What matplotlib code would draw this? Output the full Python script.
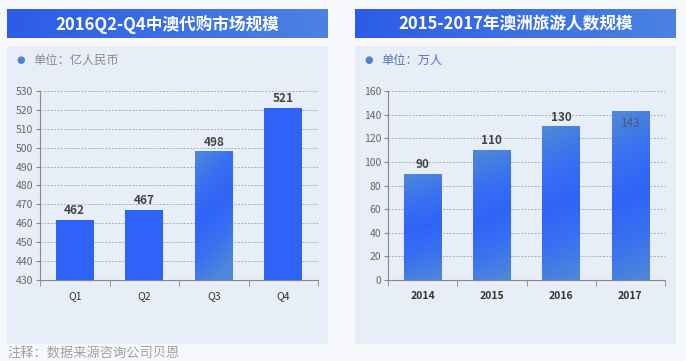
import numpy as np
import matplotlib
matplotlib.use('Agg')
import matplotlib.pyplot as plt
from matplotlib.patches import Rectangle
from matplotlib.colors import LinearSegmentedColormap

plt.rcParams['font.family'] = ['Noto Sans CJK SC', 'DejaVu Sans']

# data
quarters = ['Q1', 'Q2', 'Q3', 'Q4']
market_size = [462, 467, 498, 521]
years = ['2014', '2015', '2016', '2017']
tourists = [90, 110, 130, 143]

title_left = '2016Q2-Q4中澳代购市场规模'
title_right = '2015-2017年澳洲旅游人数规模'
unit_left = '单位：亿人民币'
unit_right = '单位：万人'
note = '注释：数据来源咨询公司贝恩'

W, H = 686, 361
fig = plt.figure(figsize=(W / 100, H / 100), dpi=100)
fig.patch.set_facecolor('#f6f8fc')


def fx(px):
    return px / W


def fy(py):
    # pixel y from top -> figure fraction from bottom
    return 1 - py / H


bar_cmap = LinearSegmentedColormap.from_list(
    'barblue', ['#5089d6', '#3a72f0', '#2f63f8', '#3a72f0', '#5089d6'])
solid_blue = '#2f62f6'


def panel(x0, x1, title, unit, unit_color):
    # panel background
    fig.patches.append(Rectangle((fx(x0), fy(344)), fx(x1 - x0), fy(46) - fy(344),
                                 transform=fig.transFigure, facecolor='#e8eef7',
                                 edgecolor='none', zorder=-10))
    # title bar with gradient
    tax = fig.add_axes([fx(x0), fy(38), fx(x1 - x0), fy(9) - fy(38)])
    grad = np.linspace(0, 1, 256).reshape(1, -1)
    tcmap = LinearSegmentedColormap.from_list('tb', ['#2c5ce8', '#4b82e2'])
    tax.imshow(grad, aspect='auto', cmap=tcmap, extent=(0, 1, 0, 1))
    tax.set_axis_off()
    tax.text(0.5, 0.48, title, color='white', fontsize=12, fontweight='bold',
             ha='center', va='center', transform=tax.transAxes)
    # unit marker
    fig.text(fx(x0 + 14), fy(60), '●', color='#4f82cc', fontsize=7,
             ha='center', va='center', family=['DejaVu Sans'])
    fig.text(fx(x0 + 26), fy(60), unit, color=unit_color, fontsize=8.8,
             ha='left', va='center')


def gradient_bar(ax, bar, diagonal=False):
    x, y = bar.get_x(), bar.get_y()
    w, h = bar.get_width(), bar.get_height()
    yy, xx = np.mgrid[0:1:200j, 0:1:60j]
    if diagonal:
        val = np.clip(yy * 0.85 + (1 - xx) * 0.25 - 0.1, 0, 1)
    else:
        val = np.clip(yy * 0.9 + (1 - xx) * 0.1, 0, 1)
    im = ax.imshow(val, cmap=bar_cmap, aspect='auto', origin='lower',
                   extent=(x, x + w, y, y + h), zorder=2, vmin=0, vmax=1)
    im.set_clip_path(bar)


def chart(x0, x1, cats, vals, ylim, step, gradients, label_bold, inside=()):
    ax = fig.add_axes([fx(x0), fy(280), fx(x1 - x0), fy(91) - fy(280)])
    ax.set_facecolor('none')
    pos = np.arange(len(cats))
    heights = [v - ylim[0] for v in vals]
    bars = ax.bar(pos, heights, width=0.54, color=solid_blue, zorder=2,
                  bottom=ylim[0])
    for b, g in zip(bars, gradients):
        if g:
            b.set_facecolor('none')
            gradient_bar(ax, b, diagonal=(g == 'diag'))
    ax.set_xlim(-0.5, len(cats) - 0.5)
    ax.set_ylim(*ylim)
    ax.set_yticks(np.arange(ylim[0], ylim[1] + 1, step))
    ax.set_xticks(pos)
    ax.set_xticklabels(cats, fontweight='bold' if label_bold else 'normal')
    ax.set_xticks(np.arange(-0.5, len(cats), 1), minor=True)
    ax.tick_params(axis='x', which='major', length=0, pad=8, labelsize=7.5,
                   labelcolor='#333333')
    ax.tick_params(axis='x', which='minor', length=4, color='#888888')
    ax.tick_params(axis='y', length=3, color='#888888', labelsize=7.5,
                   labelcolor='#666666', pad=2)
    ax.yaxis.grid(True, linestyle=(0, (2, 1.5)), color='#a8adb8', linewidth=0.7, zorder=1)
    ax.set_axisbelow(True)
    for s in ['top', 'right']:
        ax.spines[s].set_visible(False)
    for s in ['left', 'bottom']:
        ax.spines[s].set_color('#888888')
        ax.spines[s].set_linewidth(0.8)
    span = ylim[1] - ylim[0]
    for i, (p, v) in enumerate(zip(pos, vals)):
        if i in inside:
            ax.text(p, v - span * 0.065, str(v), ha='center', va='center',
                    fontsize=8.5, color='#4a5a78', zorder=4)
        else:
            ax.text(p, v + span * 0.015, str(v), ha='center', va='bottom',
                    fontsize=8.5, fontweight='bold', color='#444444', zorder=4)
    return ax


panel(7, 328, title_left, unit_left, '#8a8a8a')
panel(355, 676, title_right, unit_right, '#4f78b6')

chart(40, 318, quarters, market_size, (430, 530), 10,
      [None, None, 'diag', None], False)
chart(388, 665, years, tourists, (0, 160), 20,
      ['vert', 'vert', 'vert', 'vert'], True, inside=(3,))

fig.text(fx(7), fy(353), note, color='#a0a0a0', fontsize=9.5, ha='left', va='center')

fig.savefig('out.png', dpi=100, facecolor=fig.get_facecolor())
